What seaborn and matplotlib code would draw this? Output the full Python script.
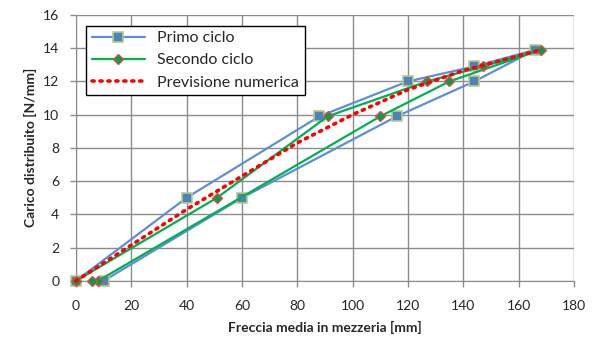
import pandas as pd
import matplotlib.pyplot as plt
import seaborn as sns

# Valori
primo_x = [0, 40, 88, 120, 144, 166, 144, 116, 60, 10]
primo_y = [0, 5.0, 9.9, 12.0, 12.9, 13.9, 12.0, 9.9, 5.0, 0]

secondo_x = [0, 51, 91, 127, 147, 168, 135, 110, 8, 5.8]
secondo_y = [0, 5.0, 9.9, 12.0, 12.9, 13.9, 12.0, 9.9, 0, 0]

prev_x = [0, 20, 40, 60, 80, 100, 120, 140, 168]
prev_y = [0, 2.15, 4.3, 6.3, 8.3, 10.0, 11.5, 12.65, 13.9]

sns.set_style("white")
plt.rcParams['font.family'] = ['Lato', 'DejaVu Sans']

fig = plt.figure(figsize=(5.93, 3.38), dpi=100)
ax = fig.add_axes([0.128, 0.169, 0.840, 0.787])

sns.lineplot(x=primo_x, y=primo_y, sort=False, estimator=None, ax=ax, color="#5B8FD6", lw=1.6,
             marker="s", markersize=7, markerfacecolor="#4F81BD", markeredgecolor="#B5CC8A",
             markeredgewidth=1.2, label="Primo ciclo", clip_on=False, zorder=3)
sns.lineplot(x=secondo_x, y=secondo_y, sort=False, estimator=None, ax=ax, color="#00B050", lw=1.6,
             marker="D", markersize=5.5, markerfacecolor="#00A04A", markeredgecolor="#D0504D",
             markeredgewidth=1.0, label="Secondo ciclo", clip_on=False, zorder=4)
sns.lineplot(x=prev_x, y=prev_y, sort=False, estimator=None, ax=ax, color="#FF0000", lw=2.6,
             linestyle=(0, (0.6, 1.6)), dash_capstyle="round", label="Previsione numerica",
             clip_on=False, zorder=5)

ax.set_xlim(0, 180)
ax.set_ylim(0, 16)
ax.set_xticks(range(0, 181, 20))
ax.set_yticks(range(0, 17, 2))
ax.grid(True, color="#8C8C8C", lw=1.0)
ax.set_axisbelow(True)
for s in ["top", "right"]:
    ax.spines[s].set_visible(False)
for s in ["left", "bottom"]:
    ax.spines[s].set_color("#8C8C8C")
ax.tick_params(axis="both", length=4, width=1, color="#8C8C8C", labelsize=10, pad=8)
ax.tick_params(axis="x", direction="out", bottom=True, pad=10)
ax.tick_params(axis="y", direction="out", left=True)

ax.set_xlabel("Freccia media in mezzeria [mm]", fontsize=10, fontweight="bold", labelpad=6)
ax.set_ylabel("Carico distribuito [N/mm]", fontsize=10, fontweight="bold")

leg = ax.legend(loc="upper left", bbox_to_anchor=(0.005, 0.99), fontsize=11.5,
                frameon=True, fancybox=False, edgecolor="black", framealpha=1,
                handlelength=3.3, borderpad=0.35, labelspacing=0.5)
leg.get_frame().set_linewidth(1.0)
leg.set_zorder(10)

fig.savefig("out.png", dpi=100)
